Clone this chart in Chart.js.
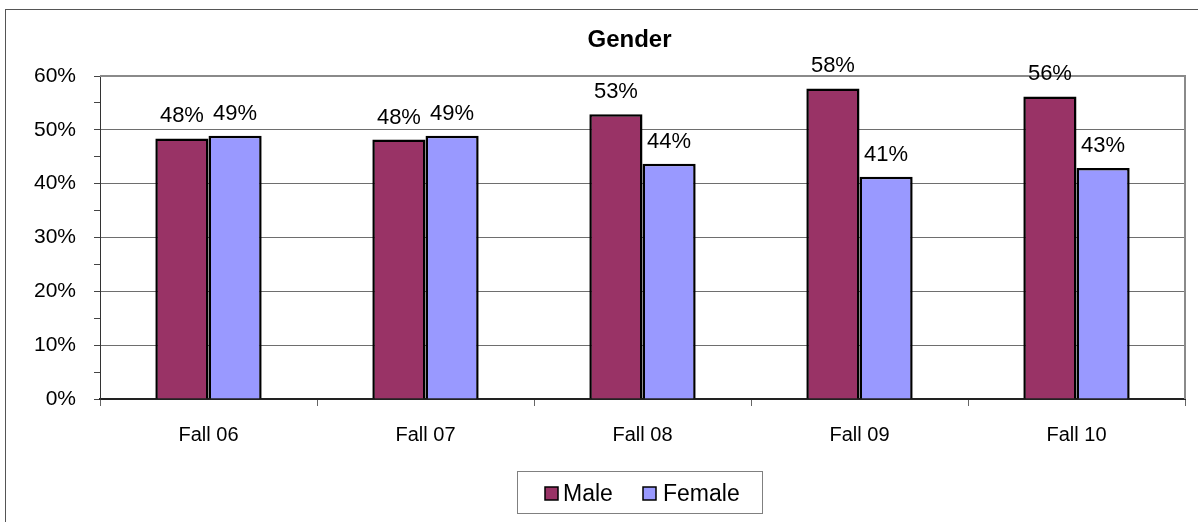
<!DOCTYPE html>
<html>
<head>
<meta charset="utf-8">
<script src="https://cdn.jsdelivr.net/npm/chart.js@4/dist/chart.umd.min.js"></script>
<style>
  html, body { margin: 0; padding: 0; background: #fff; }
  #wrap { position: relative; width: 1198px; height: 522px; }
</style>
</head>
<body>
<div id="wrap"><canvas id="c" width="1198" height="522"></canvas></div>
<script>
const titleText = 'Gender';
const categories = ['Fall 06', 'Fall 07', 'Fall 08', 'Fall 09', 'Fall 10'];
const seriesNames = ['Male', 'Female'];
const maleValues = [48.4, 48.2, 52.9, 57.7, 56.2];
const femaleValues = [48.9, 48.9, 43.7, 41.3, 42.9];
const seriesColors = ['#993366', '#9999FF'];

const FONT = "'Liberation Sans', Arial, sans-serif";

const decorPlugin = {
  id: 'decor',
  beforeDraw(chart) {
    const ctx = chart.ctx;
    ctx.save();
    ctx.fillStyle = '#fff';
    ctx.fillRect(0, 0, chart.width, chart.height);
    ctx.strokeStyle = '#555';
    ctx.lineWidth = 1;
    ctx.strokeRect(5.5, 9.5, 1400, 1000);
    ctx.restore();
  },
  beforeDatasetsDraw(chart) {
    const ctx = chart.ctx, a = chart.chartArea;
    ctx.save();
    ctx.strokeStyle = '#8a8a8a';
    ctx.lineWidth = 2;
    ctx.beginPath();
    ctx.moveTo(a.left, a.top);
    ctx.lineTo(a.right, a.top);
    ctx.lineTo(a.right, a.bottom);
    ctx.stroke();
    ctx.restore();
  },
  afterDatasetsDraw(chart) {
    const ctx = chart.ctx;
    ctx.save();
    ctx.fillStyle = '#000';
    ctx.font = '22px ' + FONT;
    ctx.textAlign = 'center';
    ctx.textBaseline = 'alphabetic';
    chart.data.datasets.forEach((ds, di) => {
      const meta = chart.getDatasetMeta(di);
      meta.data.forEach((bar, i) => {
        ctx.fillText(Math.round(ds.data[i]) + '%', bar.x, bar.y - 16);
      });
    });
    // title
    ctx.font = 'bold 24px ' + FONT;
    ctx.fillText(titleText, 629.5, 47);
    // legend
    ctx.strokeStyle = '#808080';
    ctx.lineWidth = 1;
    ctx.strokeRect(517.5, 471.5, 245, 42);
    const items = [{x: 545, tx: 563}, {x: 643, tx: 663}];
    ctx.font = '23px ' + FONT;
    ctx.textAlign = 'left';
    chart.data.datasets.forEach((ds, di) => {
      const it = items[di];
      ctx.fillStyle = ds.backgroundColor;
      ctx.fillRect(it.x, 487, 13, 13);
      ctx.strokeStyle = '#000';
      ctx.lineWidth = 1.5;
      ctx.strokeRect(it.x, 487, 13, 13);
      ctx.fillStyle = '#000';
      ctx.fillText(ds.label, it.tx, 501);
    });
    ctx.restore();
  }
};

new Chart(document.getElementById('c'), {
  type: 'bar',
  data: {
    labels: categories,
    datasets: [
      { label: seriesNames[0], data: maleValues, backgroundColor: seriesColors[0], borderColor: '#000', borderWidth: 2.5 },
      { label: seriesNames[1], data: femaleValues, backgroundColor: seriesColors[1], borderColor: '#000', borderWidth: 2.5 }
    ]
  },
  options: {
    responsive: false,
    animation: false,
    devicePixelRatio: 1,
    layout: { padding: { top: 76, right: 13, left: 0, bottom: 0 } },
    plugins: { legend: { display: false }, title: { display: false }, tooltip: { enabled: false } },
    datasets: { bar: { categoryPercentage: 0.49, barPercentage: 1 } },
    scales: {
      x: {
        grid: { offset: true, drawOnChartArea: false, drawTicks: true, tickLength: 7, tickColor: '#666', tickWidth: 1 },
        border: { color: '#222', width: 2 },
        ticks: { color: '#000', font: { family: FONT, size: 20 }, padding: 17 },
        afterFit(scale) { scale.height = 123; }
      },
      y: {
        min: 0, max: 60,
        grid: {
          color: (ctx) => (ctx.tick && ctx.tick.value % 10 === 0 && ctx.tick.value !== 0 && ctx.tick.value !== 60) ? '#6e6e6e' : 'rgba(0,0,0,0)',
          tickColor: '#444', tickLength: 6, lineWidth: 1
        },
        border: { color: '#333', width: 1 },
        ticks: {
          stepSize: 5, autoSkip: false,
          color: '#000', font: { family: FONT, size: 21 }, padding: 18,
          callback: (v) => (v % 10 === 0 ? v + '%' : '')
        },
        afterFit(scale) { scale.width = 100; }
      }
    }
  },
  plugins: [decorPlugin]
});
</script>
</body>
</html>
